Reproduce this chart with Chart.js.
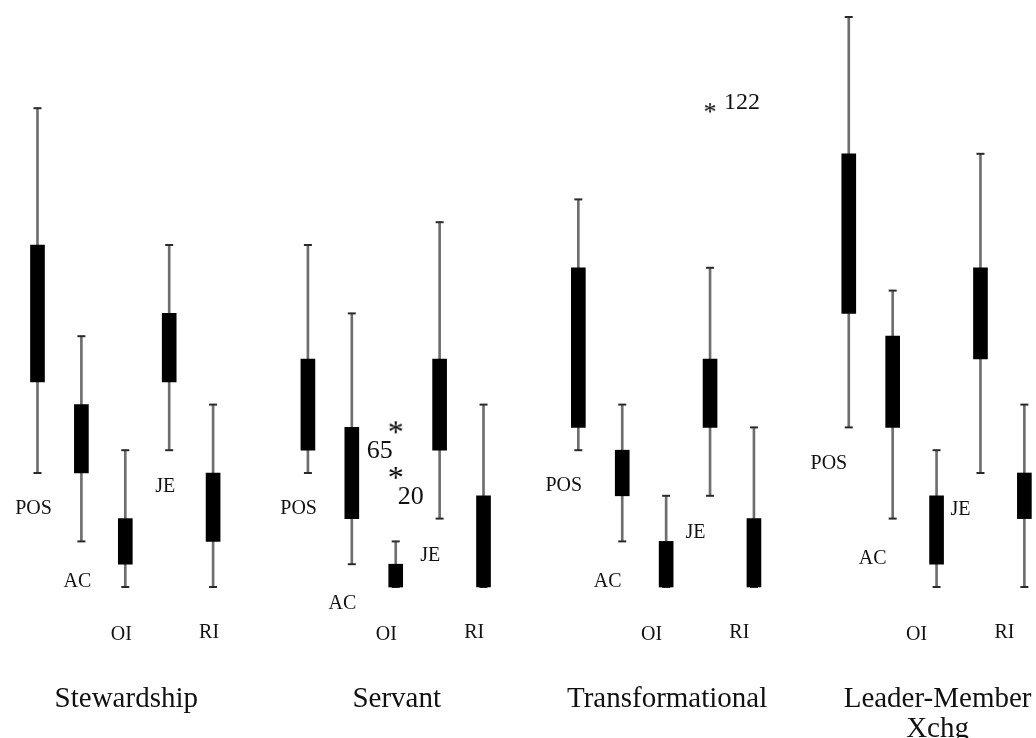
<!DOCTYPE html>
<html>
<head>
<meta charset="utf-8">
<title>Box plots by leadership style</title>
<script src="https://cdn.jsdelivr.net/npm/chart.js@4.4.0/dist/chart.umd.min.js"></script>
<style>
  html, body { margin: 0; padding: 0; background: #fff; }
  #wrap { width: 1036px; height: 738px; }
</style>
</head>
<body>
<div id="wrap"><canvas id="boxChart"></canvas></div>
<script>
const styles = ['Stewardship', 'Servant', 'Transformational', ['Leader-Member', 'Xchg']];
const measures = ['POS', 'AC', 'OI', 'JE', 'RI'];

// one row per leadership style, one column per measure
const whiskerHigh = [
  [5.2, 3.2, 2.2, 4.0, 2.6],
  [4.0, 3.4, 1.4, 4.2, 2.6],
  [4.4, 2.6, 1.8, 3.8, 2.4],
  [6.0, 3.6, 2.2, 4.8, 2.6]
];
const boxHigh = [
  [4.0, 2.6, 1.6, 3.4, 2.0],
  [3.0, 2.4, 1.2, 3.0, 1.8],
  [3.8, 2.2, 1.4, 3.0, 1.6],
  [4.8, 3.2, 1.8, 3.8, 2.0]
];
const boxLow = [
  [2.8, 2.0, 1.2, 2.8, 1.4],
  [2.2, 1.6, 1.0, 2.2, 1.0],
  [2.4, 1.8, 1.0, 2.4, 1.0],
  [3.4, 2.4, 1.2, 3.0, 1.6]
];
const whiskerLow = [
  [2.0, 1.4, 1.0, 2.2, 1.0],
  [2.0, 1.2, 1.0, 1.6, 1.0],
  [2.2, 1.4, 1.0, 1.8, 1.0],
  [2.4, 1.6, 1.0, 2.0, 1.0]
];

// extreme cases
const outlierStyle = [1, 1, 2];
const outlierMeasure = [2, 2, 3];
const outlierValue = [2.4, 2.0, 5.2];
const outlierCase = ['65', '20', '122'];

// layout
const GROUP_STEP = 6.16;
const X_MIN = -0.854, X_MAX = 22.745;
const labelDrop = [36, 40, 48, 37, 46];
const caseDx = [-16, 15, 32], caseDy = [24, 24, -5], caseSize = [26, 26, 24];

const xPos = (g, i) => g * GROUP_STEP + i;

function asterisk(px) {
  const c = document.createElement('canvas');
  c.width = c.height = Math.ceil(px * 0.6);
  const g = c.getContext('2d');
  g.font = px + 'px "Liberation Serif"';
  g.fillStyle = '#000';
  g.textAlign = 'center';
  const m = g.measureText('*');
  const h = m.actualBoundingBoxAscent + m.actualBoundingBoxDescent;
  g.fillText('*', c.width / 2, c.height / 2 + m.actualBoundingBoxAscent - h / 2);
  return c;
}

const whiskerData = [], boxData = [], capData = [];
styles.forEach((s, g) => measures.forEach((m, i) => {
  const x = xPos(g, i);
  whiskerData.push({ x, y: [whiskerLow[g][i], whiskerHigh[g][i]] });
  boxData.push({ x, y: [boxLow[g][i], boxHigh[g][i]] });
  capData.push({ x, y: whiskerHigh[g][i] }, { x, y: whiskerLow[g][i] });
}));
const outlierData = outlierValue.map((v, k) => ({ x: xPos(outlierStyle[k], outlierMeasure[k]), y: v }));
const outlierMarks = outlierCase.map((c, k) => asterisk(k === 2 ? 26 : 32));

const labelPlugin = {
  id: 'boxLabels',
  afterDraw(chart) {
    const { ctx, scales: { x, y } } = chart;
    ctx.save();
    ctx.fillStyle = '#111';
    ctx.textAlign = 'center';

    // measure names under each whisker
    ctx.textBaseline = 'middle';
    ctx.font = '20px "Liberation Serif"';
    styles.forEach((s, g) => measures.forEach((m, i) => {
      const px = x.getPixelForValue(xPos(g, i)) - (4 + 5.3 * g);
      const py = y.getPixelForValue(whiskerLow[g][i]) + labelDrop[i];
      ctx.fillText(m, px, py);
    }));

    // case numbers beside the extreme values
    outlierCase.forEach((c, k) => {
      ctx.font = caseSize[k] + 'px "Liberation Serif"';
      const px = x.getPixelForValue(outlierData[k].x) + caseDx[k];
      const py = y.getPixelForValue(outlierData[k].y) + caseDy[k];
      ctx.fillText(c, px, py);
    });

    // style names
    ctx.textBaseline = 'alphabetic';
    ctx.font = '29px "Liberation Serif"';
    const base = chart.chartArea.bottom + 120;
    styles.forEach((s, g) => {
      const cx = x.getPixelForValue(xPos(g, 2)) + 1;
      [].concat(s).forEach((line, k) => ctx.fillText(line, cx, base + k * 30));
    });
    ctx.restore();
  }
};

new Chart(document.getElementById('boxChart'), {
  type: 'bar',
  data: {
    datasets: [
      {
        type: 'scatter',
        data: outlierData,
        pointStyle: outlierMarks,
        pointRadius: 5,
        clip: false,
        order: 0
      },
      {
        data: boxData,
        backgroundColor: '#000',
        barThickness: 14,
        grouped: false,
        clip: false,
        order: 1
      },
      {
        type: 'scatter',
        data: capData,
        pointStyle: 'line',
        pointRadius: 4,
        pointBorderWidth: 2,
        pointBorderColor: '#2a2a2a',
        clip: false,
        order: 2
      },
      {
        data: whiskerData,
        backgroundColor: '#6e6e6e',
        barThickness: 2,
        grouped: false,
        clip: false,
        order: 3
      }
    ]
  },
  options: {
    responsive: true,
    maintainAspectRatio: false,
    animation: false,
    events: [],
    layout: { autoPadding: false, padding: { top: 17, bottom: 151, left: 0, right: 0 } },
    plugins: { legend: { display: false }, tooltip: { enabled: false } },
    scales: {
      x: { type: 'linear', min: X_MIN, max: X_MAX, offset: false, display: false },
      y: { min: 1, max: 6, display: false }
    }
  },
  plugins: [labelPlugin]
});
</script>
</body>
</html>
